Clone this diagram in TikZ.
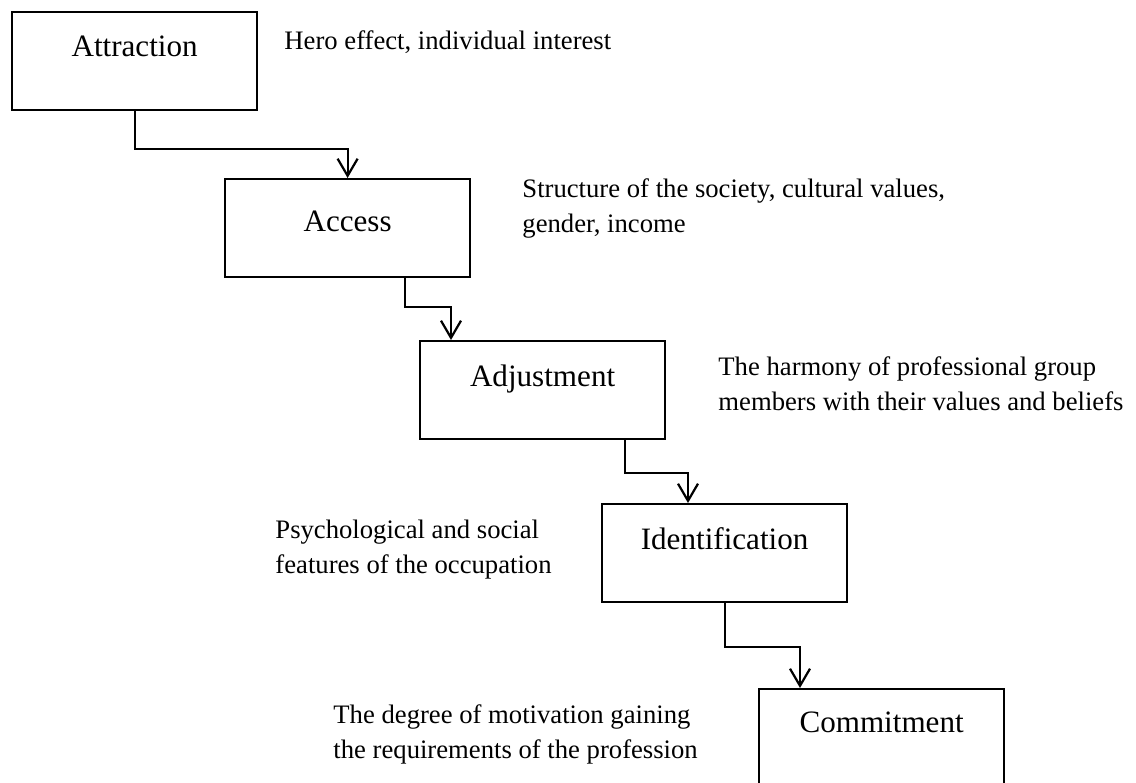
\documentclass[tikz,border=0pt]{standalone}
\usepackage{fontspec}
\setmainfont{Liberation Serif}
\usetikzlibrary{arrows.meta,calc}
\begin{document}
\begin{tikzpicture}[x=0.45pt,y=-0.45pt,
  stage/.style 2 args={draw,line width=1pt,minimum width=110.25pt,inner sep=0pt,
    font=\fontsize{14}{16}\selectfont,text height=#1,text depth=#2,anchor=north west},
  note/.style={anchor=base west,align=left,inner sep=0pt,font=\fontsize{12}{15.75}\selectfont},
  flow/.style={line width=1pt,-{Straight Barb[length=7.7pt,width=9pt]}}]
\useasboundingbox (0,0) rectangle (1136,783);

% stages of the process
\node[stage={19.8pt}{24.3pt}]   (attr)  at (11,11)   {Attraction};
\node[stage={23.4pt}{20.7pt}]   (acc)   at (224,178) {Access};
\node[stage={20.25pt}{23.85pt}] (adj)   at (419,340) {Adjustment};
\node[stage={20.25pt}{23.85pt}] (ident) at (601,503) {Identification};
\node[stage={19.35pt}{24.75pt}] (comm)  at (758,688) {Commitment};

% stepped connectors
\draw[flow] (attr.south) -- ++(0,38) -| (acc.north);
\draw[flow] ($(acc.south)+(57,0)$) -- ++(0,29) -| ($(adj.north west)+(32,0)$);
\draw[flow] ($(adj.south)+(82,0)$) -- ++(0,33) -| ($(ident.north west)+(87,0)$);
\draw[flow] (ident.south) -- ++(0,44) -| ($(comm.north west)+(42,0)$);

% factors beside each stage (anchored at the baseline of the last line)
\node[note] (n1) at (284,50)  {Hero effect, individual interest};
\node[note] (n2) at (522,233) {Structure of the society, cultural values,\\gender, income};
\node[note] (n3) at (718,410) {The harmony of professional group\\members with their values and beliefs};
\node[note] (n4) at (275,573) {Psychological and social\\features of the occupation};
\node[note] (n5) at (333,758) {The degree of motivation gaining\\the requirements of the profession};
\end{tikzpicture}
\end{document}
